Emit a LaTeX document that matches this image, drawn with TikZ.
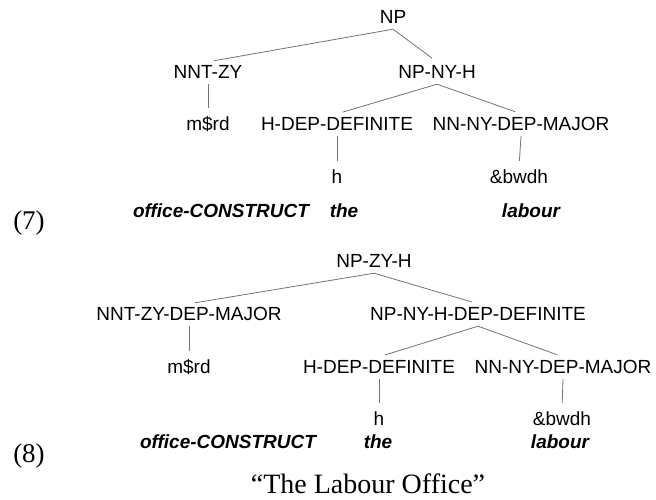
\documentclass[tikz,border=0pt]{standalone}
\usepackage{fontspec}
\setmainfont{Liberation Serif}
\setsansfont{Liberation Sans}
\usepackage{tikz}
\usetikzlibrary{positioning}

\begin{document}
\begin{tikzpicture}[
    x=1pt, y=-1pt,
    lbl/.style={anchor=base, inner xsep=0pt, inner ysep=2pt, text height=14pt, text depth=4pt, font=\sffamily\fontsize{19}{22}\selectfont},
    gloss/.style={anchor=base, inner sep=0pt, font=\sffamily\bfseries\itshape\fontsize{19}{22}\selectfont},
    exnum/.style={anchor=base, inner sep=0pt, font=\fontsize{27}{30}\selectfont},
    edge/.style={draw=black!55, line width=0.8pt, shorten >=6pt}
]
    \useasboundingbox (0,0) rectangle (656,499);

    % Tree (7)
    \node[lbl] (np1)     at (393,23)  {NP};
    \node[lbl] (nntzy1)  at (208,78)  {NNT-ZY};
    \node[lbl] (npnyh1)  at (437,78)  {NP-NY-H};
    \node[lbl] (msrd1)   at (208,130) {m\$rd};
    \node[lbl] (hdep1)   at (337,130) {H-DEP-DEFINITE};
    \node[lbl] (nnny1)   at (521,130) {NN-NY-DEP-MAJOR};
    \node[lbl] (h1)      at (337,183) {h};
    \node[lbl] (bwdh1)   at (519,183) {\&bwdh};

    % Gloss (7)
    \node[exnum] (ex7)     at (29,229)  {(7)};
    \node[gloss] (office1) at (221,217) {office-CONSTRUCT};
    \node[gloss] (the1)    at (344,217) {the};
    \node[gloss] (labour1) at (531,217) {labour};

    % Tree (8)
    \node[lbl] (npzyh2)  at (374,267) {NP-ZY-H};
    \node[lbl] (nntzy2)  at (189,320) {NNT-ZY-DEP-MAJOR};
    \node[lbl] (npnyh2)  at (478,320) {NP-NY-H-DEP-DEFINITE};
    \node[lbl] (msrd2)   at (189,373) {m\$rd};
    \node[lbl] (hdep2)   at (379,373) {H-DEP-DEFINITE};
    \node[lbl] (nnny2)   at (563,373) {NN-NY-DEP-MAJOR};
    \node[lbl] (h2)      at (379,425) {h};
    \node[lbl] (bwdh2)   at (562,425) {\&bwdh};

    % Gloss (8)
    \node[exnum] (ex8)     at (29,462)  {(8)};
    \node[gloss] (office2) at (228,448) {office-CONSTRUCT};
    \node[gloss] (the2)    at (378,448) {the};
    \node[gloss] (labour2) at (560,448) {labour};

    % Translation
    \node[exnum, font=\fontsize{28}{30}\selectfont] (transl) at (368,493) {``The Labour Office''};

    % Branches
    \foreach \p/\c in {np1/nntzy1, np1/npnyh1, nntzy1/msrd1, npnyh1/hdep1, npnyh1/nnny1, hdep1/h1, nnny1/bwdh1,
                       npzyh2/nntzy2, npzyh2/npnyh2, nntzy2/msrd2, npnyh2/hdep2, npnyh2/nnny2, hdep2/h2, nnny2/bwdh2} {
        \draw[edge] (\p.south) -- (\c.north);
    }

\end{tikzpicture}
\end{document}
